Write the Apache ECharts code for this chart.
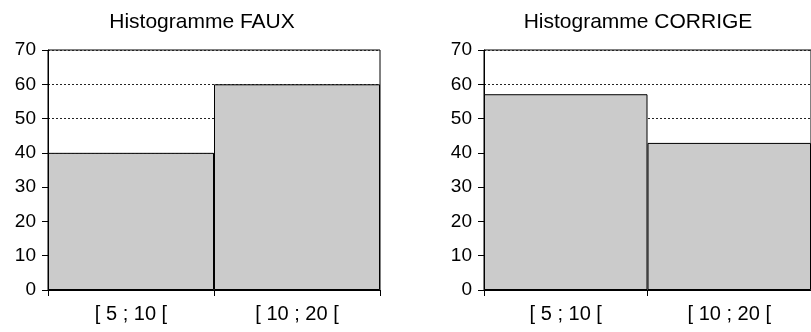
<!DOCTYPE html>
<html>
<head>
<meta charset="utf-8">
<script src="https://cdn.jsdelivr.net/npm/echarts@6/dist/echarts.min.js"></script>
<style>html,body{margin:0;padding:0;background:#fff;}#c{width:811px;height:332px;}</style>
</head>
<body>
<div id="c"></div>
<script>
const categories = ['[ 5 ; 10 [', '[ 10 ; 20 ['];
const valuesFaux = [40, 60];
const valuesCorrige = [57.1, 42.9];
const titles = ['Histogramme FAUX', 'Histogramme CORRIGE'];
const yTicks = {min: 0, max: 70, interval: 10};

const FONT = '"Liberation Sans", Arial, sans-serif';
const chart = echarts.init(document.getElementById('c'), null, {renderer: 'canvas'});

function xAxis(gi) {
  return {
    type: 'category', gridIndex: gi, data: categories,
    boundaryGap: true,
    axisLine: {lineStyle: {color: '#000', width: 1}},
    axisTick: {show: true, length: 6, lineStyle: {color: '#000'}},
    axisLabel: {color: '#000', fontSize: 20, fontFamily: FONT, margin: 14}
  };
}
function yAxis(gi) {
  return {
    type: 'value', gridIndex: gi, min: yTicks.min, max: yTicks.max, interval: yTicks.interval,
    axisLine: {show: true, lineStyle: {color: '#000', width: 1}},
    axisTick: {show: true, length: 6, lineStyle: {color: '#000'}},
    axisLabel: {color: '#000', fontSize: 19, fontFamily: FONT, margin: 12},
    splitLine: {show: true, lineStyle: {color: '#222', type: [2, 2], width: 1}}
  };
}
function bar(gi, data) {
  return {
    type: 'bar', xAxisIndex: gi, yAxisIndex: gi, data: data,
    barCategoryGap: '0%',
    itemStyle: {color: '#cbcbcb', borderColor: '#000', borderWidth: 1},
    silent: true, animation: false
  };
}

chart.setOption({
  animation: false,
  title: [
    {text: titles[0], left: 197, top: 7, textAlign: 'center',
     textStyle: {fontFamily: FONT, fontSize: 21, fontWeight: 'normal', color: '#000'}},
    {text: titles[1], left: 633, top: 7, textAlign: 'center',
     textStyle: {fontFamily: FONT, fontSize: 21, fontWeight: 'normal', color: '#000'}}
  ],
  grid: [
    {left: 48, top: 50, width: 332, height: 240, show: true, borderColor: '#000', borderWidth: 1, backgroundColor: 'transparent'},
    {left: 484, top: 50, width: 332, height: 240, show: true, borderColor: '#000', borderWidth: 1, backgroundColor: 'transparent'}
  ],
  xAxis: [xAxis(0), xAxis(1)],
  yAxis: [yAxis(0), yAxis(1)],
  series: [bar(0, valuesFaux), bar(1, valuesCorrige)]
});
</script>
</body>
</html>
